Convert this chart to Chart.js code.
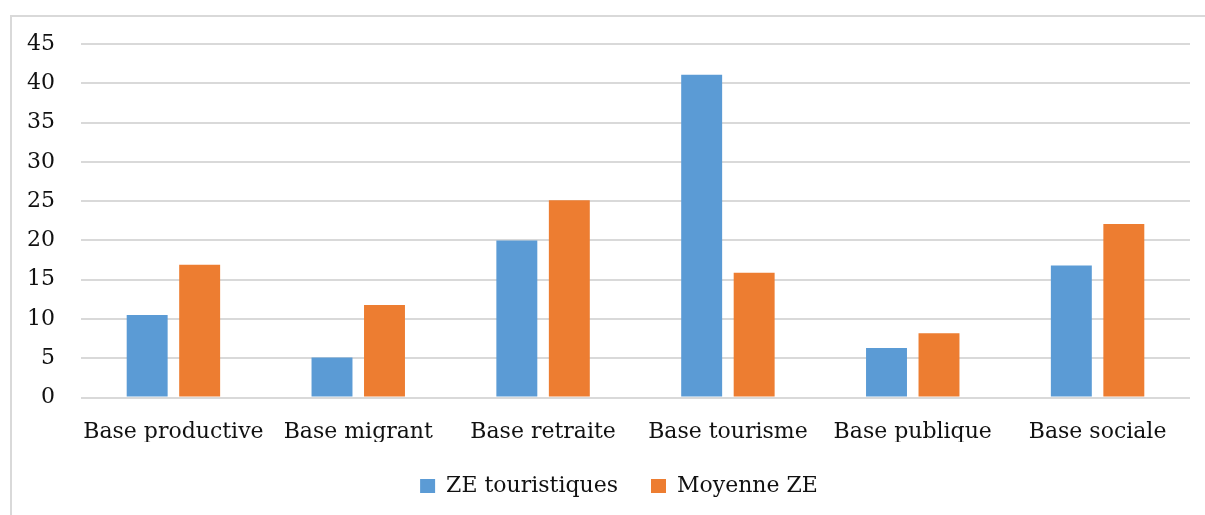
<!DOCTYPE html>
<html lang="fr">
<head>
    <meta charset="UTF-8">
    <title>Bases économiques</title>
    <script src="https://cdn.jsdelivr.net/npm/chart.js"></script>
    <style>
        html, body {
            margin: 0;
            padding: 0;
            background: white;
            overflow: hidden;
        }
        .frame {
            position: absolute;
            left: 10px;
            top: 15px;
            width: 1300px;
            height: 600px;
            border-left: 2px solid #d9d9d9;
            border-top: 2px solid #d9d9d9;
        }
        .chart-box {
            position: absolute;
            left: 0;
            top: 0;
            width: 1205px;
            height: 515px;
        }
    </style>
</head>
<body>
    <div class="frame"></div>
    <div class="chart-box">
        <canvas id="baseChart"></canvas>
    </div>

    <script>
        const categories = ['Base productive', 'Base migrant', 'Base retraite', 'Base tourisme', 'Base publique', 'Base sociale'];
        const zeTouristiques = [10.5, 5.1, 20.0, 41.1, 6.3, 16.8];
        const moyenneZE = [16.9, 11.8, 25.1, 15.9, 8.2, 22.1];
        const yTicks = [0, 5, 10, 15, 20, 25, 30, 35, 40, 45];

        const textColor = '#111111';
        const gridColor = '#d9d9d9';
        Chart.defaults.font.family = '"DejaVu Serif", serif';
        Chart.defaults.font.size = 22;
        Chart.defaults.color = textColor;

        // the original legend sits a bit right of the canvas centre
        const legendShift = {
            id: 'legendShift',
            afterLayout(chart) {
                chart.legend.left += 21;
            }
        };

        const ctx = document.getElementById('baseChart').getContext('2d');
        new Chart(ctx, {
            type: 'bar',
            data: {
                labels: categories,
                datasets: [
                    {
                        label: 'ZE touristiques',
                        data: zeTouristiques,
                        backgroundColor: '#5b9bd5',
                        categoryPercentage: 0.568,
                        barPercentage: 0.78
                    },
                    {
                        label: 'Moyenne ZE',
                        data: moyenneZE,
                        backgroundColor: '#ed7d31',
                        categoryPercentage: 0.568,
                        barPercentage: 0.78
                    }
                ]
            },
            options: {
                responsive: true,
                maintainAspectRatio: false,
                animation: false,
                layout: {
                    padding: { left: 27, right: 15, top: 44, bottom: 8 }
                },
                plugins: {
                    legend: {
                        position: 'bottom',
                        labels: {
                            boxWidth: 15,
                            boxHeight: 14,
                            padding: 33
                        }
                    },
                    tooltip: { enabled: false }
                },
                scales: {
                    x: {
                        grid: { display: false, drawTicks: false },
                        border: { display: false },
                        ticks: { padding: 21, maxRotation: 0, autoSkip: false },
                        afterFit: axis => {
                            axis.height -= 24;
                        }
                    },
                    y: {
                        min: 0,
                        max: 45,
                        afterBuildTicks: axis => {
                            axis.ticks = yTicks.map(v => ({ value: v }));
                        },
                        afterFit: axis => {
                            axis.width = 54;
                        },
                        grid: { color: gridColor, lineWidth: 2, drawTicks: false },
                        border: { display: false },
                        ticks: { padding: 26 }
                    }
                }
            },
            plugins: [legendShift]
        });
    </script>
</body>
</html>
